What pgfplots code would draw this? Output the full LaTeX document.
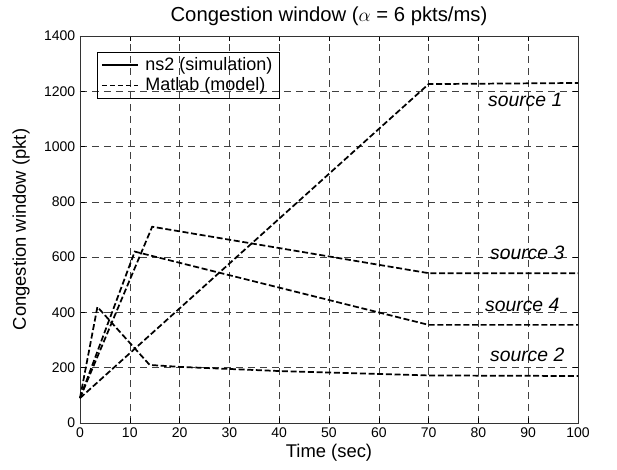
\documentclass[border=0pt]{standalone}
\usepackage{pgfplots}
\pgfplotsset{compat=1.18}
\usepackage{fontspec}
\setmainfont{Liberation Sans}
\begin{document}
\begin{tikzpicture}
\begin{axis}[
  scale only axis,
  width=373.5pt, height=290.25pt,
  xmin=0, xmax=100, ymin=0, ymax=1400,
  xtick={0,10,...,100}, ytick={0,200,...,1400},
  /pgf/number format/assume math mode=true,
  /pgf/number format/1000 sep={},
  tick label style={font=\fontsize{10.5}{12}\selectfont, black},
  label style={font=\fontsize{13.8}{16}\selectfont},
  title style={font=\fontsize{15.2}{18}\selectfont, yshift=-2pt},
  title={Congestion window ($\alpha$ = 6 pkts/ms)},
  xlabel={Time (sec)},
  ylabel={Congestion window (pkt)},
  xlabel style={yshift=2pt},
  ylabel style={yshift=4pt},
  tick align=inside,
  major tick length=4pt,
  tick style={black, thin},
  axis line style={black!80, thin},
  grid=major,
  major grid style={black!75, thin, dash pattern=on 5pt off 4pt},
  clip=false,
  legend cell align=left,
  legend style={at={(rel axis cs:0.034,0.959)}, anchor=north west, draw=black, fill=none,
    font=\fontsize{13.5}{15}\selectfont, row sep=0pt, inner sep=2pt, inner xsep=3pt},
  legend image code/.code={\draw[#1] (0cm,0cm) -- (0.95cm,0cm); \path (1.05cm,0cm);},
]
\addlegendimage{black, line width=1.2pt, solid}
\addlegendentry{ns2 (simulation)}
\addlegendimage{black, line width=1.2pt, dash pattern=on 4pt off 2pt}
\addlegendentry{Matlab (model)}
% source 1
\addplot[black, line width=1.3pt, dash pattern=on 4.5pt off 2pt, forget plot] coordinates {(0,90) (70,1226) (100,1230)};
% source 2
\addplot[black, line width=1.3pt, dash pattern=on 4.5pt off 2pt, forget plot] coordinates {(0,90) (3.5,420) (14,210) (20,203) (40,188) (70,172) (100,170)};
% source 3
\addplot[black, line width=1.3pt, dash pattern=on 4.5pt off 2pt, forget plot] coordinates {(0,90) (14.5,710) (70,542) (100,542)};
% source 4
\addplot[black, line width=1.3pt, dash pattern=on 4.5pt off 2pt, forget plot] coordinates {(0,90) (11,620) (70,355) (100,355)};
\node[font=\itshape\fontsize{14.5}{16}\selectfont] at (axis cs:89.4,1169) {source 1};
\node[font=\itshape\fontsize{14.5}{16}\selectfont] at (axis cs:89.8,615) {source 3};
\node[font=\itshape\fontsize{14.5}{16}\selectfont] at (axis cs:88.8,427) {source 4};
\node[font=\itshape\fontsize{14.5}{16}\selectfont] at (axis cs:89.8,246) {source 2};
\path[draw=none] (rel axis cs:-0.1606,-0.1214) rectangle (rel axis cs:1.0783,1.0930);
\end{axis}
\end{tikzpicture}
\end{document}
